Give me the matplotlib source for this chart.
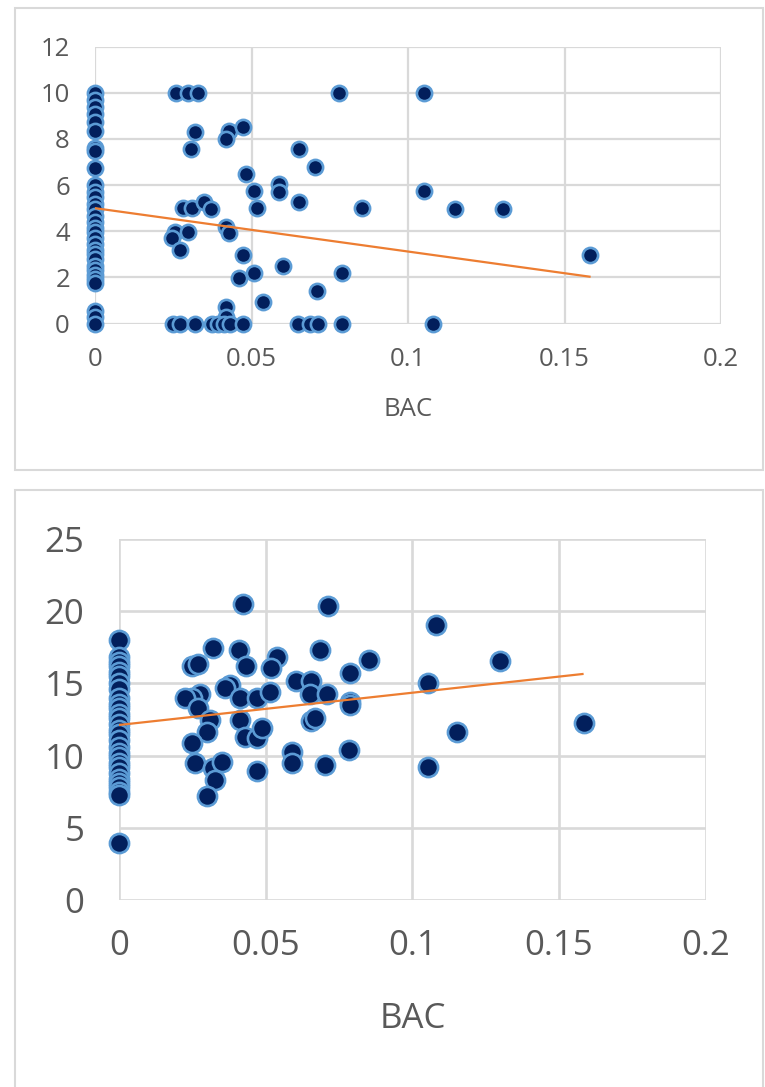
import matplotlib.pyplot as plt
from matplotlib.patches import Rectangle

# top panel: BAC vs score
top_bac = [0] * 31 + [
    0.026, 0.0298, 0.033, 0.078, 0.105,
    0.032, 0.0307, 0.0429, 0.042, 0.0474,
    0.0652, 0.0703, 0.0482, 0.0508, 0.0589, 0.0589,
    0.0652, 0.0852, 0.0282, 0.0309, 0.0349, 0.037, 0.0516,
    0.105, 0.115, 0.1305, 0.158,
    0.0256, 0.0245, 0.0298, 0.0272, 0.042, 0.0429,
    0.0472, 0.0508, 0.046, 0.06, 0.0788, 0.0708, 0.0538, 0.042, 0.042,
    0.025, 0.027, 0.032, 0.0373, 0.0394, 0.0412, 0.0431, 0.0474,
    0.065, 0.0687, 0.0713, 0.0788, 0.108,
]
top_score = [
    10, 9.7, 9.4, 9.1, 8.75, 8.35, 7.6, 7.5, 6.75, 6.0, 5.7, 5.5, 5.2, 4.95,
    4.65, 4.4, 4.15, 3.95, 3.7, 3.45, 3.2, 3.0, 2.8, 2.5, 2.3, 2.1, 1.95,
    1.75, 0.55, 0.3, 0,
    10, 10, 10, 10, 10,
    8.3, 7.55, 8.35, 8.0, 8.5,
    7.55, 6.8, 6.5, 5.75, 6.05, 5.7,
    5.25, 5.0, 5.0, 5.0, 5.28, 4.95, 5.0,
    5.74, 4.96, 4.96, 2.97,
    3.98, 3.7, 3.98, 3.2, 4.2, 3.94,
    2.97, 2.2, 1.96, 2.5, 2.2, 1.42, 0.95, 0.7, 0.3,
    0, 0, 0, 0, 0, 0, 0, 0,
    0, 0, 0, 0, 0,
]
top_trend_x = [0, 0.158]
top_trend_y = [5.0, 2.03]

# bottom panel
bot_bac = [0] * 29 + [
    0.0421, 0.0712, 0.032, 0.041, 0.0684, 0.0248, 0.0271, 0.0433, 0.0538,
    0.0519, 0.0851, 0.0788,
    0.0276, 0.0379, 0.0362, 0.0413, 0.047, 0.0515, 0.0603, 0.0654, 0.0652,
    0.0709, 0.0788, 0.0248, 0.0225,
    0.0271, 0.031, 0.0413, 0.0299, 0.0248, 0.043, 0.047, 0.0487, 0.0654,
    0.0669, 0.0788,
    0.0783, 0.0589, 0.0589, 0.0703, 0.047, 0.0259, 0.032, 0.035, 0.0328,
    0.0299,
    0.1082, 0.13, 0.1052, 0.1152, 0.1053, 0.1585,
]
bot_score = [
    18.0, 16.8, 16.5, 16.2, 15.8, 15.5, 15.0, 14.6, 14.0, 13.6, 13.3, 12.9,
    12.6, 12.2, 11.8, 11.5, 11.1, 10.6, 10.2, 9.9, 9.5, 9.2, 8.8, 8.4, 8.1,
    7.8, 7.5, 7.3, 3.93,
    20.5, 20.36, 17.43, 17.3, 17.3, 16.2, 16.34, 16.2, 16.8,
    16.05, 16.6, 15.7,
    14.3, 14.9, 14.66, 13.97, 13.97, 14.4, 15.17, 15.2, 14.3,
    14.3, 13.7, 14.0, 14.0,
    13.27, 12.47, 12.47, 11.66, 10.85, 11.3, 11.2, 11.9, 12.4,
    12.6, 13.5,
    10.4, 10.27, 9.46, 9.35, 8.93, 9.46, 9.12, 9.58, 8.3,
    7.2,
    19.04, 16.57, 15.0, 11.66, 9.19, 12.24,
]
bot_trend_x = [0, 0.158]
bot_trend_y = [12.12, 15.65]

plt.rcParams['font.family'] = ['Open Sans', 'DejaVu Sans']
text_col = '#595959'
grid_col = '#d9d9d9'

fig = plt.figure(figsize=(7.65, 10.87), dpi=100)

# outer chart borders
fig.patches.append(Rectangle((15 / 765, 1 - 470 / 1087), 748 / 765, 462 / 1087,
                             transform=fig.transFigure, fill=False,
                             edgecolor=grid_col, linewidth=1.5))
fig.patches.append(Rectangle((15 / 765, -0.01), 748 / 765, 0.01 + 1 - 490 / 1087,
                             transform=fig.transFigure, fill=False,
                             edgecolor=grid_col, linewidth=1.5))


def draw_panel(ax, xs, ys, tx, ty, ymax, ystep, fs, s, pad_y, pad_x, label_pad, glw):
    ax.set_xlim(0, 0.2)
    ax.set_ylim(0, ymax)
    ax.set_xticks([0, 0.05, 0.1, 0.15, 0.2])
    ax.set_xticklabels(['0', '0.05', '0.1', '0.15', '0.2'])
    ax.set_yticks(range(0, ymax + 1, ystep))
    ax.grid(True, color=grid_col, linewidth=glw)
    ax.set_axisbelow(True)
    for sp in ax.spines.values():
        sp.set_visible(False)
    ax.tick_params(axis='y', length=0, pad=pad_y, labelsize=fs, labelcolor=text_col)
    ax.tick_params(axis='x', length=0, pad=pad_x, labelsize=fs, labelcolor=text_col)
    ax.scatter(xs, ys, s=s, facecolor='#021f5c', edgecolor='#5b9bd5',
               linewidth=1.9, zorder=3, clip_on=False)
    ax.plot(tx, ty, color='#ed7d31', linewidth=1.6, zorder=4)
    ax.set_xlabel('BAC', fontsize=fs, color=text_col, labelpad=label_pad)


ax1 = fig.add_axes([95 / 765, 1 - 323.5 / 1087, 626 / 765, 276.8 / 1087])
draw_panel(ax1, top_bac, top_score, top_trend_x, top_trend_y, 12, 2,
           fs=18.5, s=120, pad_y=18, pad_x=17, label_pad=18, glw=1.6)

ax2 = fig.add_axes([119 / 765, 1 - 900 / 1087, 586.7 / 765, 361 / 1087])
draw_panel(ax2, bot_bac, bot_score, bot_trend_x, bot_trend_y, 25, 5,
           fs=25, s=190, pad_y=25, pad_x=21, label_pad=28, glw=1.9)

plt.savefig('out.png', dpi=100)
